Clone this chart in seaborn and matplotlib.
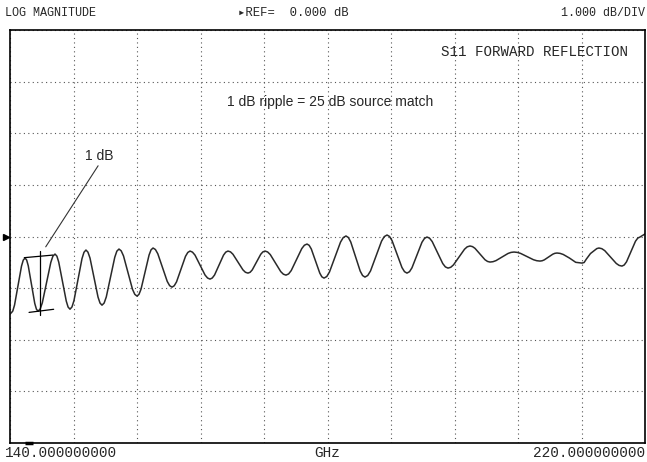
import matplotlib
matplotlib.use("Agg")
import matplotlib.pyplot as plt
import seaborn as sns
import numpy as np

# S11 trace (GHz, dB), one half ripple per row
freq_ghz = [
    140.13, 140.35, 140.57, 141.01, 141.45, 141.67,
    141.89, 142.10, 142.30, 142.71, 143.12, 143.33,
    143.53, 143.80, 144.07, 144.60, 145.14, 145.40,
    145.67, 145.91, 146.14, 146.62, 147.09, 147.32,
    147.56, 147.81, 148.06, 148.57, 149.07, 149.32,
    149.57, 149.82, 150.08, 150.58, 151.09, 151.34,
    151.59, 151.86, 152.13, 152.66, 153.20, 153.46,
    153.73, 154.01, 154.30, 154.87, 155.43, 155.72,
    156.00, 156.25, 156.51, 157.01, 157.52, 157.77,
    158.02, 158.32, 158.62, 159.22, 159.81, 160.11,
    160.41, 160.69, 160.98, 161.55, 162.11, 162.40,
    162.68, 162.99, 163.31, 163.94, 164.57, 164.89,
    165.20, 165.48, 165.77, 166.33, 166.90, 167.18,
    167.46, 167.78, 168.09, 168.72, 169.35, 169.66,
    169.98, 170.25, 170.52, 171.06, 171.59, 171.86,
    172.13, 172.46, 172.79, 173.45, 174.11, 174.44,
    174.77, 175.10, 175.43, 176.10, 176.76, 177.09,
    177.42, 177.69, 177.96, 178.49, 179.03, 179.29,
    179.56, 179.91, 180.25, 180.95, 181.64, 181.98,
    182.33, 182.63, 182.93, 183.53, 184.12, 184.42,
    184.72, 185.07, 185.42, 186.11, 186.81, 187.15,
    187.50, 187.81, 188.13, 188.76, 189.38, 189.70,
    190.01, 190.33, 190.64, 191.27, 191.90, 192.22,
    192.53, 192.86, 193.19, 193.86, 194.52, 194.85,
    195.18, 195.53, 195.87, 196.57, 197.26, 197.60,
    197.95, 198.27, 198.58, 199.21, 199.84, 200.16,
    200.47, 200.85, 201.23, 201.99, 202.74, 203.12,
    203.50, 203.91, 204.32, 205.14, 205.95, 206.36,
    206.77, 207.04, 207.31, 207.84, 208.38, 208.64,
    208.91, 209.30, 209.70, 210.49, 211.27, 211.67,
    212.06, 212.33, 212.60, 213.13, 213.67, 213.93,
    214.20, 214.56, 214.93, 215.65, 216.38, 216.74,
    217.10, 217.38, 217.67, 218.24, 218.80, 219.09,
    219.37, 220.00,
]
s11_db = [
    -1.485, -1.444, -1.329, -0.951, -0.573, -0.458,
    -0.417, -0.456, -0.567, -0.932, -1.297, -1.408,
    -1.447, -1.405, -1.285, -0.894, -0.502, -0.382,
    -0.340, -0.381, -0.496, -0.874, -1.252, -1.367,
    -1.408, -1.364, -1.241, -0.835, -0.429, -0.306,
    -0.262, -0.303, -0.418, -0.796, -1.174, -1.289,
    -1.330, -1.289, -1.171, -0.787, -0.402, -0.284,
    -0.243, -0.278, -0.376, -0.699, -1.022, -1.120,
    -1.155, -1.120, -1.019, -0.689, -0.359, -0.258,
    -0.223, -0.252, -0.334, -0.602, -0.870, -0.952,
    -0.981, -0.954, -0.879, -0.632, -0.384, -0.309,
    -0.282, -0.303, -0.361, -0.554, -0.746, -0.804,
    -0.825, -0.804, -0.746, -0.554, -0.361, -0.303,
    -0.282, -0.298, -0.344, -0.496, -0.647, -0.693,
    -0.709, -0.693, -0.647, -0.496, -0.344, -0.298,
    -0.282, -0.300, -0.350, -0.515, -0.680, -0.730,
    -0.748, -0.725, -0.660, -0.447, -0.234, -0.169,
    -0.146, -0.171, -0.242, -0.476, -0.710, -0.781,
    -0.806, -0.775, -0.687, -0.398, -0.109, -0.021,
    0.010, -0.020, -0.106, -0.388, -0.670, -0.756,
    -0.786, -0.755, -0.667, -0.379, -0.090, -0.002,
    0.029, 0.001, -0.079, -0.340, -0.601, -0.681,
    -0.709, -0.682, -0.607, -0.360, -0.112, -0.037,
    -0.010, -0.033, -0.098, -0.311, -0.524, -0.589,
    -0.612, -0.596, -0.550, -0.398, -0.247, -0.200,
    -0.184, -0.196, -0.229, -0.340, -0.450, -0.483,
    -0.495, -0.488, -0.467, -0.398, -0.329, -0.308,
    -0.301, -0.308, -0.327, -0.389, -0.450, -0.469,
    -0.476, -0.470, -0.453, -0.398, -0.343, -0.326,
    -0.320, -0.327, -0.348, -0.418, -0.500, -0.508,
    -0.515, -0.504, -0.440, -0.330, -0.266, -0.234,
    -0.223, -0.236, -0.274, -0.398, -0.522, -0.560,
    -0.573, -0.552, -0.491, -0.292, -0.092, -0.031,
    -0.010, 0.049,
]

f_start, f_stop = 140.0, 220.0
ref_db, db_per_div = 0.0, 1.0

# ripple marker drawn by hand on the screen
bracket_top = ([141.8, 145.4], [-0.41, -0.36])
bracket_bot = ([142.4, 145.5], [-1.47, -1.41])
bracket_vert = ([143.8, 143.8], [-0.28, -1.53])
leader = ([151.1, 144.5], [1.37, -0.20])

sns.set_style("white")
mono = ["Liberation Mono", "DejaVu Sans Mono"]

fig = plt.figure(figsize=(6.47, 4.62), dpi=100)
ax = fig.add_axes([10 / 647, 1 - 443 / 462, 635 / 647, 413 / 462])

sns.lineplot(x=freq_ghz, y=s11_db, ax=ax, color="#2a2a2a", linewidth=1.1,
             errorbar=None)

ax.set_xlim(f_start, f_stop)
ax.set_ylim(ref_db - 4 * db_per_div, ref_db + 4 * db_per_div)
ax.set_xticks(np.linspace(f_start, f_stop, 11))
ax.set_yticks(np.linspace(-4, 4, 9))
ax.grid(True, color="#555555", linestyle=(0, (1, 3)), linewidth=0.8)
ax.tick_params(length=0, labelbottom=False, labelleft=False)
for s in ax.spines.values():
    s.set_color("black")
    s.set_linewidth(1.2)

for xs, ys in (bracket_top, bracket_bot, bracket_vert):
    ax.plot(xs, ys, color="black", linewidth=0.9)
ax.plot(leader[0], leader[1], color="#333333", linewidth=0.8)

ax.text(151.3, 1.55, "1 dB", fontsize=10, family="Liberation Sans",
        ha="center", va="center")
ax.text(180.3, 2.61, "1 dB ripple = 25 dB source match", fontsize=10,
        family="Liberation Sans", ha="center", va="center")
ax.text(0.974, 0.946, "S11 FORWARD REFLECTION", transform=ax.transAxes,
        fontsize=10.2, family=mono, ha="right", va="center")

# ref level pointer and marker tick outside the grid
ax.plot([f_start - 0.55], [ref_db], marker=">", color="black", markersize=4,
        clip_on=False)
ax.plot([141.9, 142.9], [-4, -4], color="black", linewidth=2.5,
        clip_on=False, solid_capstyle="butt")

fig.text(5 / 647, 1 - 13 / 462, "LOG MAGNITUDE", fontsize=8.5, family=mono,
         ha="left", va="center")
fig.text(238 / 647, 1 - 13 / 462, "▸REF=  0.000 dB", fontsize=8.8,
         family=mono, ha="left", va="center")
fig.text(645 / 647, 1 - 13 / 462, "1.000 dB/DIV", fontsize=8.4, family=mono,
         ha="right", va="center")
fig.text(5 / 647, 1 - 453 / 462, "140.000000000", fontsize=10.4, family=mono,
         ha="left", va="center")
fig.text(327 / 647, 1 - 453 / 462, "GHz", fontsize=10.4, family=mono,
         ha="center", va="center")
fig.text(645 / 647, 1 - 453 / 462, "220.000000000", fontsize=10.4,
         family=mono, ha="right", va="center")

fig.savefig("out.png", dpi=100)
